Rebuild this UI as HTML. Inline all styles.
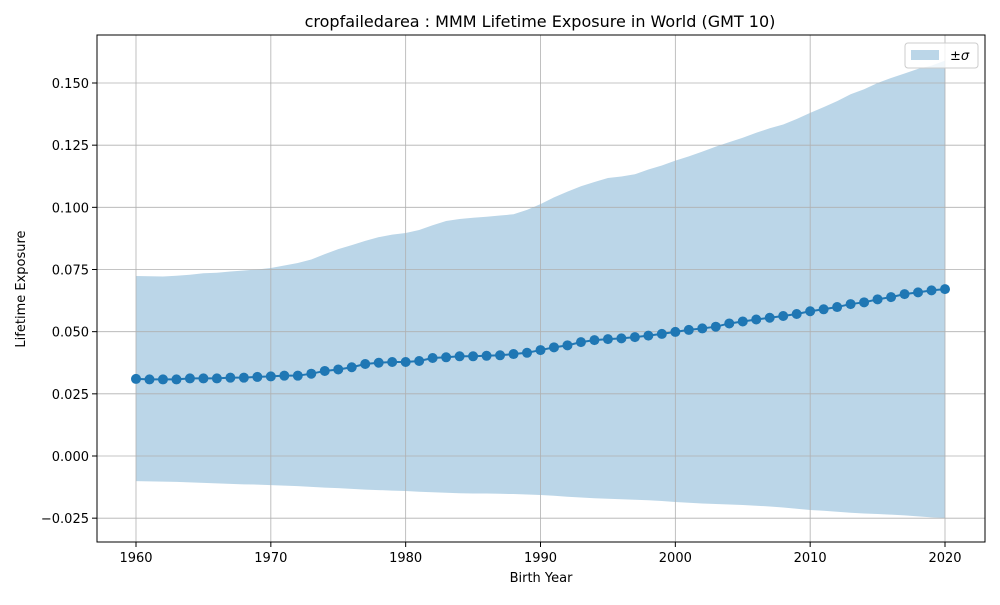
<!DOCTYPE html>
<html><head><meta charset="utf-8"><style>
body{margin:0;background:#fff;}
svg{font-family:"DejaVu Sans","Liberation Sans",sans-serif;}
</style></head><body>
<svg id="chart" width="1000" height="600" viewBox="0 0 1000 600">
<rect width="1000" height="600" fill="#fff"/>
<text x="540" y="27" text-anchor="middle" font-size="16">cropfailedarea : MMM Lifetime Exposure in World (GMT 10)</text>
<g id="band"></g>
<g id="grid"></g>
<g id="series"></g>
<rect x="97" y="35" width="888" height="507" fill="none" stroke="#000" stroke-width="1"/>
<g id="ticks"></g>
<text x="541" y="582" text-anchor="middle" font-size="13">Birth Year</text>
<text x="25" y="289" text-anchor="middle" font-size="13" transform="rotate(-90 25 289)">Lifetime Exposure</text>
<g>
<rect x="905" y="43" width="73" height="25" rx="3" fill="#fff" fill-opacity="0.8" stroke="#ccc"/>
<rect x="911" y="50" width="28" height="10" fill="#1f77b4" fill-opacity="0.3"/>
<text x="950" y="60" font-size="13">±<tspan font-style="italic">σ</tspan></text>
</g>
</svg>
<script>
const years=[];for(let y=1960;y<=2020;y++)years.push(y);
const meanValues=[0.0310,0.0308,0.0308,0.0308,0.0312,0.0312,0.0312,0.0315,0.0315,0.0318,0.0320,0.0323,0.0323,0.0331,0.0342,0.0348,0.0357,0.0370,0.0375,0.0378,0.0378,0.0382,0.0394,0.0397,0.0401,0.0401,0.0403,0.0405,0.0410,0.0415,0.0426,0.0437,0.0445,0.0458,0.0466,0.0470,0.0473,0.0478,0.0484,0.0491,0.0499,0.0507,0.0513,0.0520,0.0533,0.0541,0.0549,0.0556,0.0563,0.0571,0.0582,0.0590,0.0599,0.0611,0.0618,0.0630,0.0639,0.0651,0.0658,0.0666,0.0671];
const upperValues=[0.0724,0.0723,0.0722,0.0725,0.0729,0.0735,0.0737,0.0742,0.0746,0.0750,0.0756,0.0766,0.0776,0.0790,0.0812,0.0832,0.0848,0.0865,0.0880,0.0890,0.0897,0.0909,0.0928,0.0945,0.0953,0.0958,0.0962,0.0967,0.0972,0.0990,0.1013,0.1040,0.1063,0.1085,0.1102,0.1118,0.1124,0.1133,0.1152,0.1168,0.1188,0.1205,0.1224,0.1244,0.1262,0.1280,0.1300,0.1318,0.1333,0.1355,0.1380,0.1403,0.1427,0.1455,0.1475,0.1500,0.1520,0.1538,0.1557,0.1570,0.1590];
const lowerValues=[-0.0101,-0.0102,-0.0103,-0.0104,-0.0106,-0.0108,-0.0110,-0.0112,-0.0114,-0.0115,-0.0117,-0.0119,-0.0121,-0.0124,-0.0127,-0.0129,-0.0132,-0.0135,-0.0137,-0.0139,-0.0141,-0.0144,-0.0146,-0.0148,-0.0150,-0.0151,-0.0151,-0.0152,-0.0153,-0.0155,-0.0157,-0.0160,-0.0164,-0.0167,-0.0170,-0.0172,-0.0174,-0.0176,-0.0178,-0.0181,-0.0185,-0.0188,-0.0191,-0.0193,-0.0195,-0.0197,-0.0200,-0.0203,-0.0207,-0.0212,-0.0217,-0.0220,-0.0224,-0.0228,-0.0231,-0.0233,-0.0236,-0.0239,-0.0243,-0.0247,-0.0250];
const xTicks=[1960,1970,1980,1990,2000,2010,2020];
const yTicks=[-0.025,0,0.025,0.05,0.075,0.1,0.125,0.15];
const yTickLabels=["\u22120.025","0.000","0.025","0.050","0.075","0.100","0.125","0.150"];

const NS="http://www.w3.org/2000/svg";
const xs=v=>136+(v-1960)*(945-136)/60;
const ys=v=>456-v*(456-83)/0.15;
function mk(tag,attrs,parent){const e=document.createElementNS(NS,tag);for(const k in attrs)e.setAttribute(k,attrs[k]);document.getElementById(parent).appendChild(e);return e;}

xTicks.forEach(t=>{
 const g=mk('line',{x1:xs(t),x2:xs(t),y1:35,y2:542,stroke:'#b0b0b0','stroke-width':0.8},'grid');
 
 
 const tk=mk('line',{x1:xs(t),x2:xs(t),y1:542,y2:547,stroke:'#000'},'ticks');
 
 
 const tx=mk('text',{x:xs(t),y:562,'text-anchor':'middle','font-size':13},'ticks');
 tx.textContent=t;
 
 
});
yTicks.forEach((t,i)=>{
 const g=mk('line',{x1:97,x2:985,y1:ys(t),y2:ys(t),stroke:'#b0b0b0','stroke-width':0.8},'grid');
 
 
 const tk=mk('line',{x1:92,x2:97,y1:ys(t),y2:ys(t),stroke:'#000'},'ticks');
 
 
 const tx=mk('text',{x:89,y:ys(t)+5,'text-anchor':'end','font-size':13},'ticks');
 tx.textContent=yTickLabels[i];
 
 
});
let d='M'+years.map((y,i)=>xs(y)+','+ys(upperValues[i])).join('L');
for(let i=years.length-1;i>=0;i--)d+='L'+xs(years[i])+','+ys(lowerValues[i]);
const band=mk('path',{d:d+'Z',fill:'#1f77b4','fill-opacity':0.3},'band');


const line=mk('polyline',{points:years.map((y,i)=>xs(y)+','+ys(meanValues[i])).join(' '),fill:'none',stroke:'#1f77b4','stroke-width':2},'series');


years.forEach((y,i)=>{
 const c=mk('circle',{cx:xs(y),cy:ys(meanValues[i]),r:5,fill:'#1f77b4'},'series');
 
 
});
</script>
</body></html>
